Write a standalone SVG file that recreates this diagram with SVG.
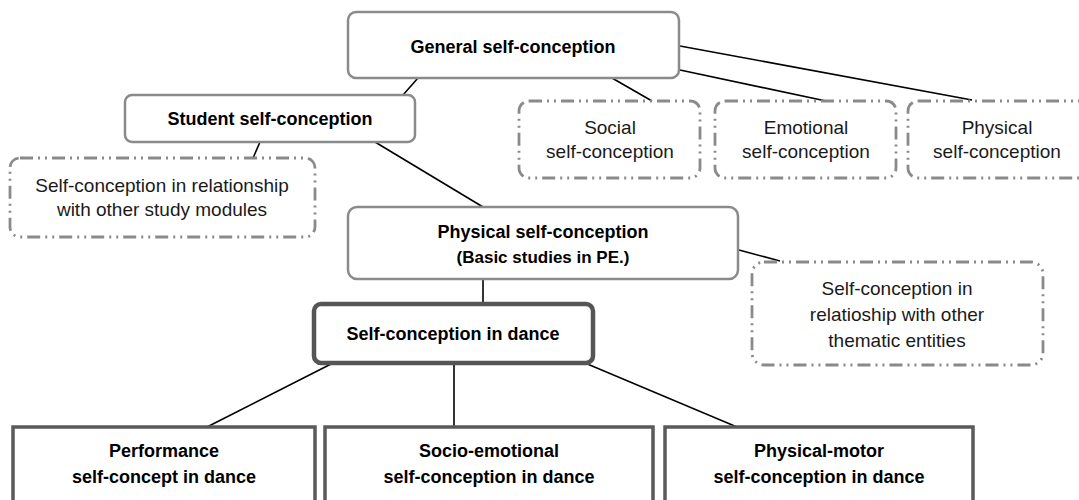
<svg xmlns="http://www.w3.org/2000/svg" width="1079" height="500" viewBox="0 0 1079 500">
<style>
.light{fill:#fff;stroke:#8a8a8a;stroke-width:2.5}
.dash{fill:#fff;stroke:#8a8a8a;stroke-width:2.8;stroke-dasharray:13 5 2 5 2 5}
.dark{fill:#fff;stroke:#555;stroke-width:4.5}
.sq{fill:#fff;stroke:#5a5a5a;stroke-width:3.5}
.b{font-family:"Liberation Sans",Arial,sans-serif;font-weight:bold;font-size:18px;fill:#000;text-anchor:middle}
.n{font-family:"Liberation Sans",Arial,sans-serif;font-size:19px;fill:#1a1a1a;text-anchor:middle}
.c{stroke:#000;stroke-width:1.6;fill:none}
</style>
<rect width="1079" height="500" fill="#fff"/>
<g id="connectors">
<line class="c" x1="418" y1="78" x2="403" y2="95"/>
<line class="c" x1="612" y1="78" x2="652" y2="101"/>
<line class="c" x1="680" y1="70" x2="826" y2="101"/>
<line class="c" x1="680" y1="46" x2="972" y2="100"/>
<line class="c" x1="260" y1="142" x2="253" y2="158"/>
<line class="c" x1="375" y1="142" x2="483" y2="207"/>
<line class="c" x1="739" y1="250" x2="780" y2="261"/>
<line class="c" x1="483" y1="279" x2="483" y2="303"/>
<line class="c" x1="333" y1="363" x2="207" y2="427"/>
<line class="c" x1="454" y1="363" x2="454" y2="427"/>
<line class="c" x1="585" y1="363" x2="737" y2="427"/>
</g>
<g id="general">
<rect class="light" x="348" y="12" width="331" height="66" rx="8"/>
<text class="b" x="513" y="53">General self-conception</text>
</g>
<g id="student">
<rect class="light" x="125" y="95" width="290" height="47" rx="7"/>
<text class="b" x="270" y="125">Student self-conception</text>
</g>
<g id="modules">
<rect class="dash" x="10" y="158" width="305" height="79" rx="10"/>
<text class="n" x="162" y="192">Self-conception in relationship</text>
<text class="n" x="162" y="216">with other study modules</text>
</g>
<g id="social">
<rect class="dash" x="519" y="101" width="181" height="77" rx="10"/>
<text class="n" x="610" y="134">Social</text>
<text class="n" x="610" y="158">self-conception</text>
</g>
<g id="emotional">
<rect class="dash" x="715" y="101" width="181" height="77" rx="10"/>
<text class="n" x="806" y="134">Emotional</text>
<text class="n" x="806" y="158">self-conception</text>
</g>
<g id="physical">
<rect class="dash" x="908" y="101" width="181" height="77" rx="10"/>
<text class="n" x="997" y="134">Physical</text>
<text class="n" x="997" y="158">self-conception</text>
</g>
<g id="physical-pe">
<rect class="light" x="348" y="207" width="390" height="72" rx="9"/>
<text class="b" x="543" y="238">Physical self-conception</text>
<text class="b" x="543" y="263" style="font-size:17px">(Basic studies in PE.)</text>
</g>
<g id="thematic">
<rect class="dash" x="752" y="262" width="291" height="103" rx="12"/>
<text class="n" x="897" y="295">Self-conception in</text>
<text class="n" x="897" y="321">relatioship with other</text>
<text class="n" x="897" y="347">thematic entities</text>
</g>
<g id="dance">
<rect class="dark" x="314" y="304" width="279" height="59" rx="7"/>
<text class="b" x="453" y="340">Self-conception in dance</text>
</g>
<g id="performance">
<rect class="sq" x="13" y="427" width="302" height="90"/>
<text class="b" x="164" y="457">Performance</text>
<text class="b" x="164" y="483">self-concept in dance</text>
</g>
<g id="socio">
<rect class="sq" x="325" y="427" width="328" height="90"/>
<text class="b" x="489" y="457">Socio-emotional</text>
<text class="b" x="489" y="483">self-conception in dance</text>
</g>
<g id="motor">
<rect class="sq" x="665" y="427" width="308" height="90"/>
<text class="b" x="819" y="457">Physical-motor</text>
<text class="b" x="819" y="483">self-conception in dance</text>
</g>
</svg>
